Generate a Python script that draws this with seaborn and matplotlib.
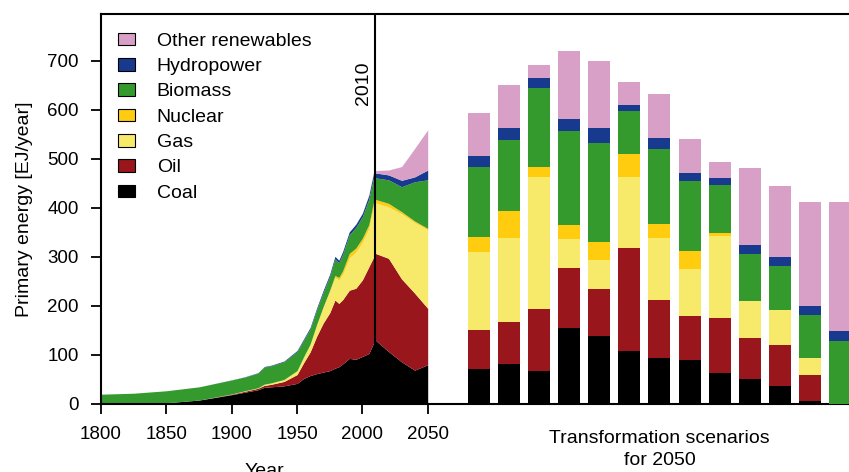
import numpy as np
import pandas as pd
import matplotlib.pyplot as plt
import seaborn as sns
from matplotlib.patches import Patch

sns.set_theme(style='ticks')
plt.rcParams['font.family'] = ['Liberation Sans', 'DejaVu Sans']
plt.rcParams['text.color'] = 'black'
plt.rcParams['axes.labelcolor'] = 'black'

# historical primary energy by source [EJ/year]
years_hist = [1800, 1825, 1850, 1875, 1900, 1910, 1920, 1925, 1930, 1940, 1950, 1955,
              1960, 1965, 1970, 1975, 1979, 1982, 1985, 1990, 1995, 2000, 2005, 2010]
coal_hist = [0, 0.5, 2.5, 8, 19, 24, 29, 34, 35, 37, 42, 52,
             58, 62, 65, 68, 73, 76, 82, 93, 91, 97, 103, 133]
oil_hist = [0, 0, 0, 0, 1, 2, 3, 4, 5, 9, 18, 32,
            48, 76, 100, 118, 139, 129, 131, 139, 145, 156, 177, 174]
gas_hist = [0, 0, 0, 0, 0.5, 1, 1, 2.5, 3, 4, 8, 12,
            16, 24, 33, 44, 46, 48, 52, 66, 74, 77, 78, 115]
nuclear_hist = [0, 0, 0, 0, 0, 0, 0, 0, 0, 0, 0, 0,
                0, 0, 0.5, 2, 4, 5, 7, 9, 8, 8, 8, 8]
biomass_hist = [20, 21.5, 24.5, 27, 28.5, 28, 30, 35, 35, 36, 39, 34,
                31, 30, 29, 28, 34, 30, 34, 38, 42, 44, 52, 49]
hydro_hist = [0, 0, 0, 0, 0.3, 0.5, 0.8, 1, 1, 1.5, 2, 2.5,
              3, 3.5, 4, 4.5, 5, 5, 5.5, 6, 6.5, 7, 8, 10]
other_hist = [0, 0, 0, 0, 0, 0, 0, 0, 0, 0, 0, 0,
              0, 0, 0, 0, 0, 0, 0, 0, 0, 0.5, 1, 2]

# scenario path 2010-2050
years_scen = [2010, 2020, 2030, 2040, 2050]
coal_scen = [130, 107, 86, 69, 80]
oil_scen = [177, 190, 169, 157, 115]
gas_scen = [103, 105, 133, 144, 160]
nuclear_scen = [7, 7, 4, 3, 3]
biomass_scen = [44, 48, 51, 80, 99]
hydro_scen = [10, 10, 13, 10, 20]
other_scen = [5, 10, 28, 58, 82]

# transformation scenarios for 2050
scenarios = ['S1', 'S2', 'S3', 'S4', 'S5', 'S6', 'S7', 'S8', 'S9', 'S10', 'S11', 'S12', 'S13']
coal_bar = [71, 82, 67, 155, 139, 108, 94, 90, 63, 51, 37, 6, 0]
oil_bar = [80, 85, 127, 122, 95, 210, 118, 89, 112, 84, 83, 53, 0]
gas_bar = [159, 171, 269, 59, 60, 145, 126, 96, 167, 75, 72, 35, 0]
nuclear_bar = [30, 55, 20, 29, 36, 47, 29, 37, 7, 0, 0, 0, 0]
biomass_bar = [143, 145, 161, 192, 202, 87, 153, 143, 97, 96, 89, 87, 128]
hydro_bar = [23, 25, 21, 24, 31, 13, 22, 16, 15, 18, 19, 19, 21]
other_bar = [87, 87, 26, 139, 136, 46, 90, 69, 32, 157, 144, 212, 263]

sources = ['Coal', 'Oil', 'Gas', 'Nuclear', 'Biomass', 'Hydropower', 'Other renewables']
colors = ['#000000', '#98161C', '#F7EA6A', '#FFCC0F', '#359A2E', '#183A8E', '#D8A0C6']

fig = plt.figure(figsize=(8.49, 4.72), dpi=100)
ax = fig.add_axes([101 / 849, 68 / 472, 748 / 849, 390 / 472])

ax.stackplot(years_hist, coal_hist, oil_hist, gas_hist, nuclear_hist, biomass_hist,
             hydro_hist, other_hist, colors=colors, linewidth=0)
ax.stackplot(years_scen, coal_scen, oil_scen, gas_scen, nuclear_scen, biomass_scen,
             hydro_scen, other_scen, colors=colors, linewidth=0)

ax.axvline(2010, color='black', lw=1.5, zorder=5)
ax.text(2001, 698, '2010', rotation=90, ha='center', va='top', fontsize=14)

ax.set_xlim(1800, 2372.4)
ax.set_xticks([1800, 1850, 1900, 1950, 2000, 2050])
ax.set_ylim(0, 795)
ax.set_yticks([0, 100, 200, 300, 400, 500, 600, 700])
ax.set_ylabel('Primary energy [EJ/year]', fontsize=14, labelpad=10)
ax.text(1925, -0.15, 'Year', transform=ax.get_xaxis_transform(),
        ha='center', va='top', fontsize=14)

ax.spines['right'].set_visible(False)
for s in ['left', 'top', 'bottom']:
    ax.spines[s].set_linewidth(1.5)
    ax.spines[s].set_color('black')
ax.tick_params(axis='both', direction='out', length=7, width=1.3, colors='black',
               labelsize=13.5)
ax.tick_params(axis='x', pad=9)
ax.tick_params(axis='y', pad=9)

# stacked bars on a twin x axis with categorical positions
ax2 = ax.twiny()
bar_df = pd.DataFrame({'Coal': coal_bar, 'Oil': oil_bar, 'Gas': gas_bar,
                       'Nuclear': nuclear_bar, 'Biomass': biomass_bar,
                       'Hydropower': hydro_bar, 'Other renewables': other_bar},
                      index=scenarios)
cum = bar_df[sources].cumsum(axis=1)
for src, c in reversed(list(zip(sources, colors))):
    sns.barplot(x=scenarios, y=cum[src].values, color=c, saturation=1, width=0.731,
                errorbar=None, linewidth=0, ax=ax2)
ax2.set_xlim(-12.566, 12.30)
ax2.set_xticks([])
ax2.set_xlabel('')
for s in ax2.spines.values():
    s.set_visible(False)
ax2.text(6, -0.067, 'Transformation scenarios\nfor 2050', transform=ax2.get_xaxis_transform(),
         ha='center', va='top', fontsize=14, linespacing=1.4)
ax.set_ylim(0, 795)

handles = [Patch(facecolor=c, edgecolor='black', linewidth=0.8, label=l)
           for l, c in reversed(list(zip(sources, colors)))]
ax.legend(handles=handles, loc='upper left', bbox_to_anchor=(0.0227, 0.952), frameon=False,
          fontsize=14, handlelength=0.9, handleheight=0.62, handletextpad=1.1,
          labelspacing=0.42, borderpad=0, borderaxespad=0)

fig.savefig('out.png', dpi=100)
